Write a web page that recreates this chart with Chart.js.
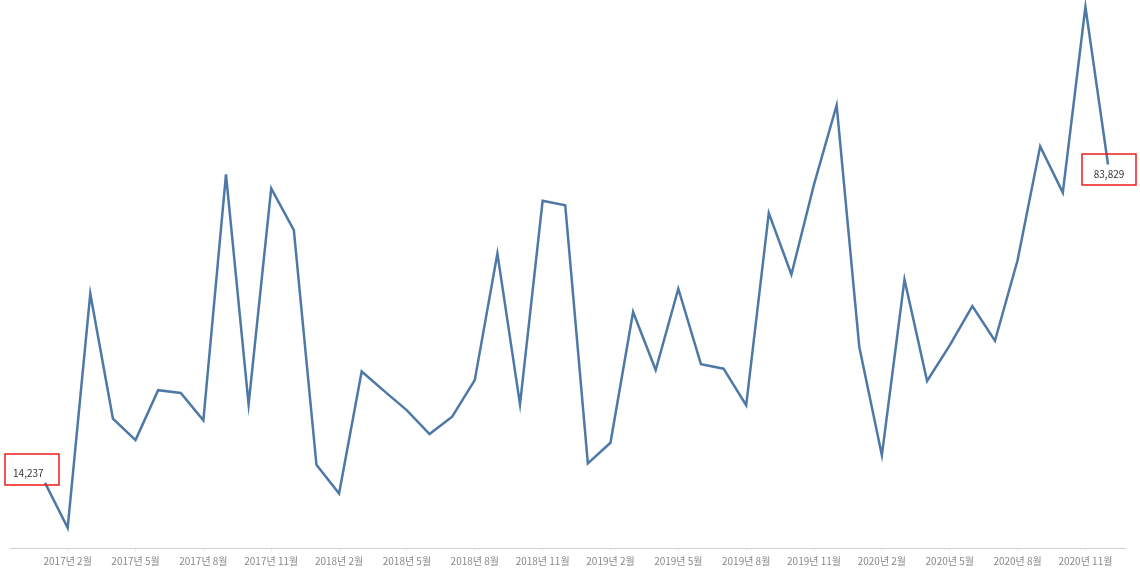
<!DOCTYPE html>
<html>
<head>
<meta charset="utf-8">
<script src="https://cdn.jsdelivr.net/npm/chart.js@4"></script>
<style>
    body { margin: 0; background: #fff; }
    #wrap { width: 1140px; height: 584px; position: relative; }
</style>
</head>
<body>
<div id="wrap"><canvas id="chart-panel"></canvas></div>
<script>
/* global Chart */

var years = [2017, 2018, 2019, 2020];
var months = [];
years.forEach(function (year) {
    for (var m = 1; m <= 12; m++) {
        months.push(year + '년 ' + m + '월');
    }
});

var sales = [
    14237, 4400, 55600, 28300, 23600, 34500, 33900, 27900, 81700, 31400, 78600, 69500,
    18200, 11900, 38600, 34300, 30100, 24900, 28700, 36700, 64400, 31400, 75900, 74900,
    18500, 23000, 51600, 38900, 56700, 40200, 39200, 31200, 73200, 59800, 79500, 96800,
    44000, 20300, 58700, 36500, 44300, 52900, 45300, 62900, 87800, 77700, 118300, 83829
];

// every third month gets a tick label: 2월, 5월, 8월, 11월
var tickMonths = [1, 4, 7, 10, 13, 16, 19, 22, 25, 28, 31, 34, 37, 40, 43, 46];

// points that get a boxed value label
var markedPoints = [0, 47];

var lineColor = '#4e79a7';

var boxLabels = {
    id: 'boxLabels',
    afterDatasetsDraw: function (chart) {
        var ctx = chart.ctx;
        var meta = chart.getDatasetMeta(0);
        ctx.save();
        ctx.font = '10px "Noto Sans CJK KR", "Open Sans", sans-serif';
        ctx.textBaseline = 'middle';
        markedPoints.forEach(function (idx) {
            var pt = meta.data[idx];
            var text = sales[idx].toLocaleString('en-US');
            var bx, by, tx, ty;
            if (idx === 0) {
                bx = pt.x - 40; by = pt.y - 29;
                tx = pt.x - 32; ty = pt.y - 10;
                ctx.textAlign = 'left';
            } else {
                bx = pt.x - 26; by = pt.y - 11;
                tx = pt.x + 1; ty = pt.y + 10;
                ctx.textAlign = 'center';
            }
            ctx.strokeStyle = '#f21a1a';
            ctx.lineWidth = 1.5;
            ctx.strokeRect(Math.round(bx), Math.round(by), 54, 31);
            ctx.fillStyle = '#333';
            ctx.fillText(text, tx, ty);
        });
        ctx.restore();
    }
};

document.addEventListener('DOMContentLoaded', function () {
    new Chart(document.getElementById('chart-panel').getContext('2d'), {
        type: 'line',
        data: {
            datasets: [
                {
                    label: '매출',
                    data: sales.map(function (value, i) {
                        return {x: i, y: value};
                    }),
                    borderColor: lineColor,
                    borderWidth: 2.5,
                    pointRadius: 0,
                    fill: false,
                    tension: 0,
                    clip: false
                }
            ]
        },
        options: {
            responsive: true,
            maintainAspectRatio: false,
            animation: false,
            layout: {padding: {left: 10, right: 15, top: 0, bottom: 0}},
            plugins: {
                legend: {display: false},
                tooltip: {enabled: false}
            },
            scales: {
                x: {
                    type: 'linear',
                    min: -1.55,
                    max: 47.75,
                    afterBuildTicks: function (scale) {
                        scale.ticks = tickMonths.map(function (v) {
                            return {value: v};
                        });
                    },
                    afterFit: function (scale) {
                        scale.height = 36;
                    },
                    border: {
                        display: true,
                        color: '#cfcfcf',
                        dash: [1, 1],
                        width: 1
                    },
                    grid: {
                        display: true,
                        drawOnChartArea: false,
                        drawTicks: true,
                        tickLength: 3,
                        color: '#ececec'
                    },
                    ticks: {
                        autoSkip: false,
                        maxRotation: 0,
                        padding: 4,
                        color: '#888',
                        font: {family: '"Noto Sans CJK KR", "Open Sans", sans-serif', size: 10},
                        callback: function (value) {
                            return months[value];
                        }
                    }
                },
                y: {
                    display: false,
                    min: 0,
                    max: 119800
                }
            }
        },
        plugins: [boxLabels]
    });
});
</script>
</body>
</html>
